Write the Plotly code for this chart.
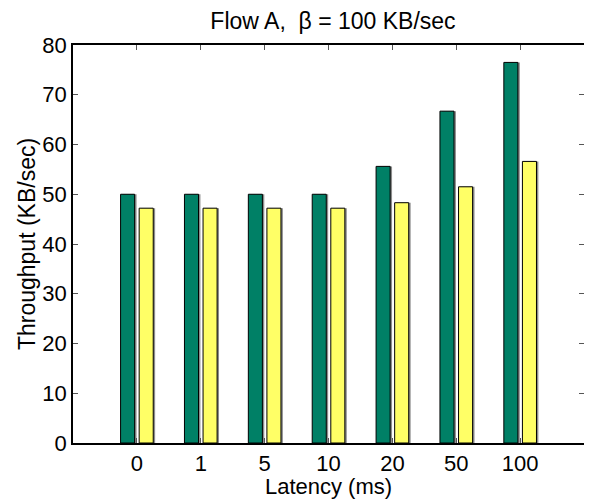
import plotly.graph_objects as go

categories = ["0", "1", "5", "10", "20", "50", "100"]
series_a = [50.0, 50.0, 50.0, 50.0, 55.6, 66.7, 76.5]
series_b = [47.2, 47.2, 47.2, 47.2, 48.3, 51.5, 56.6]
y_ticks = [0, 10, 20, 30, 40, 50, 60, 70, 80]

FONT = "Liberation Sans, Arial, sans-serif"
BAR_W = 0.22
OFF_A = -0.255
OFF_B = 0.036
SHADOW_DX = 0.03

# the page body has an 8px margin, so the figure is sized/offset to compensate
PAGE_OFF = 8
FIG_W, FIG_H = 592 - PAGE_OFF, 499 - PAGE_OFF

fig = go.Figure()
for vals, off, color in [(series_a, OFF_A, "#008066"), (series_b, OFF_B, "#FFFF66")]:
    fig.add_trace(go.Bar(x=categories, y=vals, width=BAR_W, offset=off + SHADOW_DX,
                         marker=dict(color="#8c8c8c", line=dict(width=0)), hoverinfo="skip"))
    fig.add_trace(go.Bar(x=categories, y=vals, width=BAR_W, offset=off,
                         marker=dict(color=color, line=dict(color="black", width=1))))

fig.update_layout(
    width=FIG_W, height=FIG_H,
    margin=dict(l=73 - PAGE_OFF, r=8, t=45 - PAGE_OFF, b=56, autoexpand=False),
    paper_bgcolor="white", plot_bgcolor="white",
    showlegend=False,
    barmode="overlay",
    font=dict(family=FONT, size=22, color="black"),
    title=dict(text="Flow A,  β = 100 KB/sec", x=(333 - PAGE_OFF) / FIG_W, xref="container", xanchor="center",
               y=1 - (21 - PAGE_OFF) / FIG_H, yref="container", yanchor="middle",
               font=dict(family=FONT, size=23, color="black")),
)
fig.update_xaxes(
    type="category", range=[-1, 7], automargin=False,
    showline=True, linecolor="black", linewidth=1.5, mirror="ticks",
    ticks="inside", ticklen=5, tickcolor="#555",
    showgrid=False, tickfont=dict(size=22),
    title=dict(text="Latency (ms)", standoff=0, font=dict(size=22)),
)
fig.update_yaxes(
    range=[0, 80], tickvals=y_ticks, automargin=False,
    showline=True, linecolor="black", linewidth=1.5, mirror="ticks",
    ticks="inside", ticklen=5, tickcolor="#555",
    showgrid=False, zeroline=False, tickfont=dict(size=22),
    title=dict(text="Throughput (KB/sec)", standoff=0, font=dict(size=23)),
)

fig.write_html("out.html")
